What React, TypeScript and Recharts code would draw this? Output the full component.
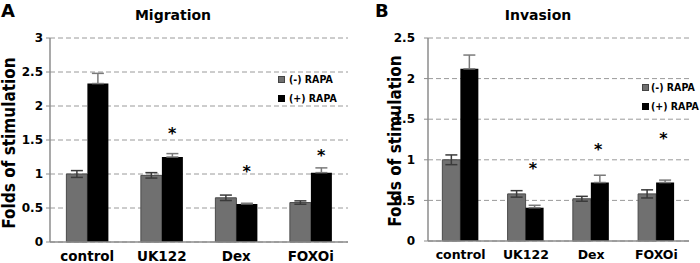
import React from 'react';
import {
  ComposedChart, Bar, Line, XAxis, YAxis, CartesianGrid, ErrorBar, Legend,
} from 'recharts';

const categories = ['control', 'UK122', 'Dex', 'FOXOi'];

// Migration (panel A)
const migMinus = [1.0, 0.98, 0.65, 0.58];
const migMinusErr = [0.05, 0.04, 0.04, 0.025];
const migPlus = [2.33, 1.25, 0.56, 1.02];
const migPlusErr = [0.15, 0.05, 0.01, 0.07];
const migStars = [null, 1.65, 1.09, 1.33];
const migTicks = [0, 0.5, 1, 1.5, 2, 2.5, 3];

// Invasion (panel B)
const invMinus = [1.0, 0.58, 0.52, 0.58];
const invMinusErr = [0.06, 0.04, 0.03, 0.05];
const invPlus = [2.12, 0.41, 0.72, 0.72];
const invPlusErr = [0.17, 0.03, 0.09, 0.03];
const invStars = [null, 0.93, 1.17, 1.31];
const invTicks = [0, 0.5, 1, 1.5, 2, 2.5];

const boundTicks = [0, 1, 2, 3, 4];

const FONT = '"DejaVu Sans", sans-serif';
const COND = '"DejaVu Sans Condensed", "DejaVu Sans", sans-serif';
const AXIS = '#8c8c8c';
const GRAY = '#707070';

const buildRows = (
  minus: number[], minusErr: number[], plus: number[], plusErr: number[], stars: (number | null)[],
) =>
  categories.map((name, i) => ({
    name,
    minus: minus[i],
    minusErr: minusErr[i],
    plus: plus[i],
    plusErr: [0, plusErr[i]],
    star: stars[i],
  }));

// small square + label, in series order
const LegendBox = ({ payload, gap }: any) => {
  const items = [...(payload || [])]
    .filter((p: any) => p.type !== 'none')
    .sort((a: any, b: any) => (a.dataKey === 'minus' ? -1 : b.dataKey === 'minus' ? 1 : 0));
  return (
    <div style={{ fontFamily: COND, fontWeight: 'bold', fontSize: 10.5, lineHeight: '19px', whiteSpace: 'nowrap' }}>
      {items.map((it: any) => (
        <div key={it.value} style={{ display: 'flex', alignItems: 'center' }}>
          <span style={{
            display: 'inline-block', width: 5, height: 5, marginRight: gap,
            background: it.color, border: it.dataKey === 'minus' ? '1px solid #444' : '1px solid #000',
          }} />
          <span style={{ color: '#000' }}>{it.value}</span>
        </div>
      ))}
    </div>
  );
};

type PanelProps = {
  rows: ReturnType<typeof buildRows>;
  ticks: number[];
  left: number;
  margin: { top: number; right: number; left: number; bottom: number };
  xHeight: number;
  xFont: number;
  yTickMargin: number;
  starDx: number;
  legendPos: { top: number; left: number; gap: number };
};

const Panel: React.FC<PanelProps> = ({
  rows, ticks, left, margin, xHeight, xFont, yTickMargin, starDx, legendPos,
}) => {
  const StarDot = (p: any) => {
    if (p.value == null || p.cx == null || p.cy == null) return <g key={p.key} />;
    return (
      <text key={p.key} x={p.cx + starDx} y={p.cy + 9} textAnchor="middle"
        fontFamily={FONT} fontWeight="bold" fontSize={16} fill="#000">*</text>
    );
  };

  return (
    <div style={{ position: 'absolute', left, top: 0 }}>
      <ComposedChart width={350} height={263} data={rows} margin={margin}
        barCategoryGap="22%" barGap={0}>
        <CartesianGrid vertical={false} stroke="#9a9a9a" strokeDasharray="5 3" />
        <XAxis xAxisId="bounds" type="number" domain={[0, 4]} ticks={boundTicks}
          height={0} tick={false} axisLine={false} tickSize={4}
          tickLine={{ stroke: AXIS }} allowDataOverflow />
        <XAxis xAxisId="cat" dataKey="name" height={xHeight} tickLine={false}
          tickSize={6} tickMargin={3} axisLine={{ stroke: AXIS, strokeWidth: 1.5 }}
          tick={{ fill: '#000', fontSize: xFont, fontWeight: 'bold', fontFamily: FONT }}
          interval={0} />
        <YAxis width={30} domain={[ticks[0], ticks[ticks.length - 1]]} ticks={ticks}
          tickSize={4} tickMargin={yTickMargin}
          axisLine={{ stroke: AXIS, strokeWidth: 1.5 }} tickLine={{ stroke: AXIS }}
          tick={{ fill: '#000', fontSize: 12, fontWeight: 'bold', fontFamily: FONT }} />
        <Legend layout="vertical" verticalAlign="middle" align="center"
          wrapperStyle={{ top: legendPos.top, left: legendPos.left, width: 'auto' }}
          content={(props: any) => <LegendBox {...props} gap={legendPos.gap} />} />
        <Bar xAxisId="cat" dataKey="minus" name="(-) RAPA" fill={GRAY} stroke="#4a4a4a"
          strokeWidth={1} isAnimationActive={false}>
          <ErrorBar dataKey="minusErr" width={6} stroke="#3a3a3a" strokeWidth={1.5} />
        </Bar>
        <Bar xAxisId="cat" dataKey="plus" name="(+) RAPA" fill="#000" isAnimationActive={false}>
          <ErrorBar dataKey="plusErr" width={6} stroke="#7a7a7a" strokeWidth={1.5} />
        </Bar>
        <Line xAxisId="cat" dataKey="star" stroke="none" legendType="none"
          dot={StarDot} activeDot={false} isAnimationActive={false} />
      </ComposedChart>
    </div>
  );
};

const textBase: React.CSSProperties = {
  position: 'absolute', fontFamily: FONT, fontWeight: 'bold', color: '#000', whiteSpace: 'nowrap',
};

const YLabel: React.FC<{ cx: number; cy: number }> = ({ cx, cy }) => (
  <div style={{
    ...textBase, left: cx - 110, top: cy - 10, width: 220, height: 20, lineHeight: '20px',
    textAlign: 'center', transform: 'rotate(-90deg)', fontSize: 17, fontFamily: COND,
  }}>Folds of stimulation</div>
);

const Title: React.FC<{ cx: number; text: string }> = ({ cx, text }) => (
  <div style={{
    ...textBase, left: cx - 60, top: 8, width: 120, textAlign: 'center', fontSize: 14, lineHeight: '14px',
  }}>{text}</div>
);

export default function App() {
  const migRows = buildRows(migMinus, migMinusErr, migPlus, migPlusErr, migStars);
  const invRows = buildRows(invMinus, invMinusErr, invPlus, invPlusErr, invStars);
  return (
    <div style={{ position: 'absolute', left: 0, top: 0, width: 700, height: 263, background: '#fff', overflow: 'hidden' }}>
      <Panel rows={migRows} ticks={migTicks} left={0}
        margin={{ top: 38, right: 2, left: 20, bottom: 0 }} xHeight={21} xFont={13.5} yTickMargin={3}
        starDx={10.5} legendPos={{ top: 70, left: 278, gap: 4 }} />
      <Panel rows={invRows} ticks={invTicks} left={350}
        margin={{ top: 38, right: 11, left: 48, bottom: 0 }} xHeight={22} xFont={12.5} yTickMargin={9}
        starDx={7} legendPos={{ top: 78, left: 292, gap: 2 }} />
      <div style={{ ...textBase, left: 1, top: 1, fontSize: 18, lineHeight: '20px' }}>A</div>
      <div style={{ ...textBase, left: 375, top: 1, fontSize: 18, lineHeight: '20px' }}>B</div>
      <Title cx={173} text="Migration" />
      <Title cx={538} text="Invasion" />
      <YLabel cx={9} cy={143} />
      <YLabel cx={395} cy={141} />
    </div>
  );
}
